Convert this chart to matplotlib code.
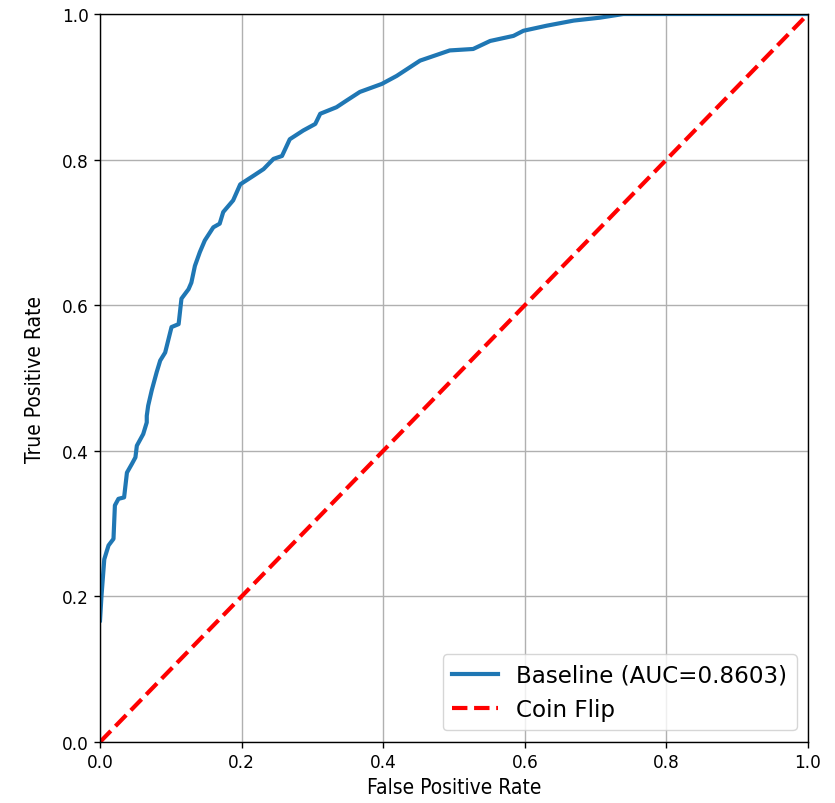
import matplotlib
matplotlib.use("Agg")
import matplotlib.pyplot as plt

# ROC curve
fpr = [0.000, 0.002, 0.006, 0.012, 0.019, 0.021, 0.026, 0.034, 0.038, 0.045,
       0.050, 0.052, 0.061, 0.066, 0.066, 0.068, 0.073, 0.080, 0.085, 0.092,
       0.101, 0.111, 0.115, 0.125, 0.129, 0.134, 0.141, 0.148, 0.160, 0.169,
       0.174, 0.188, 0.198, 0.217, 0.231, 0.245, 0.257, 0.268, 0.287, 0.304,
       0.311, 0.334, 0.348, 0.367, 0.398, 0.419, 0.452, 0.494, 0.527, 0.551,
       0.584, 0.598, 0.631, 0.669, 0.706, 0.739, 1.000]
tpr = [0.167, 0.200, 0.251, 0.270, 0.279, 0.325, 0.334, 0.336, 0.370, 0.382,
       0.391, 0.407, 0.423, 0.439, 0.448, 0.462, 0.483, 0.508, 0.524, 0.535,
       0.570, 0.574, 0.609, 0.622, 0.631, 0.654, 0.673, 0.689, 0.707, 0.712,
       0.728, 0.744, 0.766, 0.778, 0.787, 0.801, 0.805, 0.828, 0.840, 0.849,
       0.863, 0.872, 0.881, 0.893, 0.904, 0.915, 0.936, 0.950, 0.952, 0.963,
       0.970, 0.977, 0.984, 0.991, 0.995, 1.000, 1.000]
auc = 0.8603

fig = plt.figure(figsize=(8.35, 8.04), dpi=100)
ax = fig.add_axes([0.1198, 0.0759, 0.8479, 0.9054])

ax.plot(fpr, tpr, color='#1f77b4', lw=3, label='Baseline (AUC=%.4f)' % auc)
ax.plot([0, 1], [0, 1], 'r--', lw=3, label='Coin Flip')

ax.set_xlim(0, 1)
ax.set_ylim(0, 1)
ax.tick_params(labelsize=12.2, length=4.5, width=1)
for s in ax.spines.values():
    s.set_linewidth(1)
ax.set_xlabel('False Positive Rate', fontsize=15, fontstretch='condensed')
ax.set_ylabel('True Positive Rate', fontsize=15, fontstretch='condensed', labelpad=12)
ax.grid(True, color='#b0b0b0', lw=1)
ax.legend(loc='lower right', fontsize=16.6)

fig.savefig('out.png', dpi=100)
